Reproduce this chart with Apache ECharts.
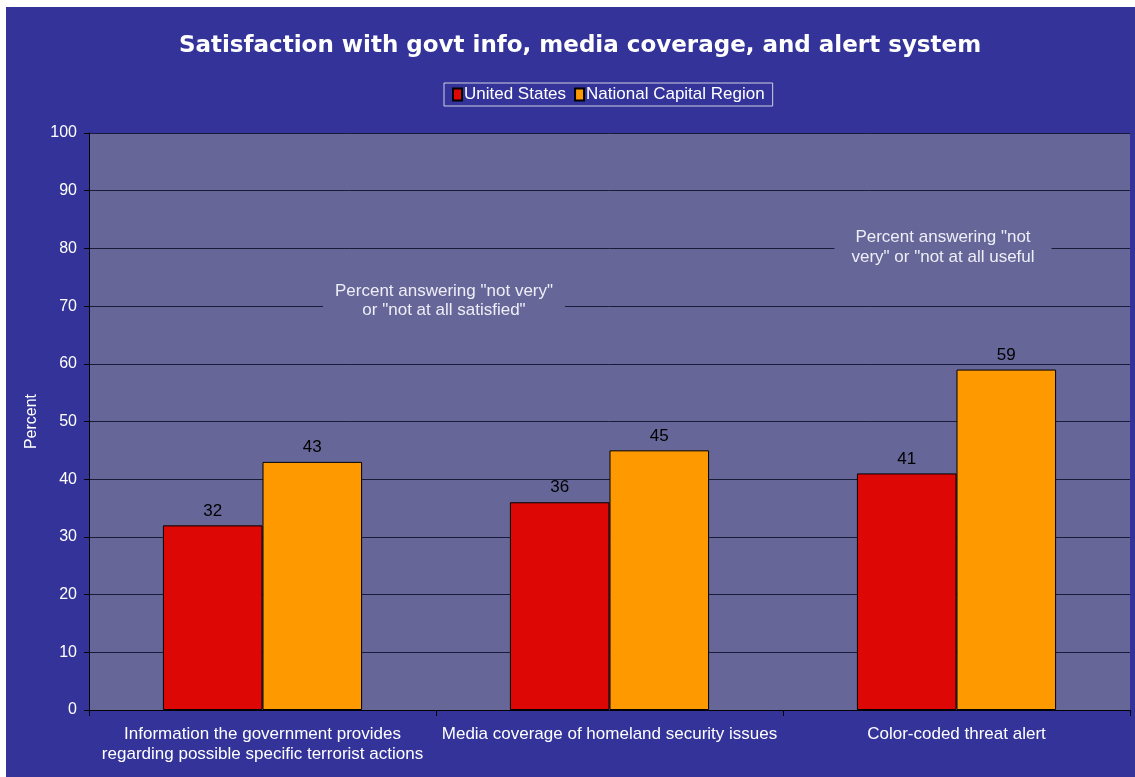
<!DOCTYPE html>
<html>
<head>
<meta charset="utf-8">
<script src="https://cdn.jsdelivr.net/npm/echarts@6/dist/echarts.min.js"></script>
<style>
  html, body { margin: 0; padding: 0; background: #ffffff; }
  #chart { width: 1135px; height: 777px; }
</style>
</head>
<body>
<div id="chart"></div>
<script>
// Survey categories (x axis) and percentages per region
const categories = [
  'Information the government provides\nregarding possible specific terrorist actions',
  'Media coverage of homeland security issues',
  'Color-coded threat alert'
];
const unitedStates = [32, 36, 41];
const nationalCapitalRegion = [43, 45, 59];
const seriesNames = ['United States', 'National Capital Region'];
const yTicks = { min: 0, max: 100, interval: 10 };

const FONT = '"Liberation Sans", Arial, sans-serif';
const TEXT_SIZE = 17;

const chart = echarts.init(document.getElementById('chart'));

const barLabel = {
  show: true,
  position: 'top',
  distance: 6,
  color: '#000000',
  fontFamily: FONT,
  fontSize: TEXT_SIZE
};

// Notes drawn over the plot; the background hides the gridline behind them
function note(text, cx, cy, padX, lineHeight) {
  return {
    type: 'text',
    z: 5,
    x: cx,
    y: cy,
    silent: true,
    style: {
      text: text,
      fill: '#eeeef8',
      font: TEXT_SIZE + 'px ' + FONT,
      align: 'center',
      verticalAlign: 'middle',
      lineHeight: lineHeight,
      backgroundColor: '#666699',
      padding: [0, padX, 0, padX]
    }
  };
}

chart.setOption({
  backgroundColor: '#ffffff',
  animation: false,
  graphic: [
    {
      type: 'rect',
      z: -10,
      silent: true,
      shape: { x: 6, y: 7, width: 1129, height: 770 },
      style: { fill: '#333399' }
    },
    note('Percent answering "not very"\nor "not at all satisfied"', 444, 301, 12, 19),
    note('Percent answering "not\nvery" or "not at all useful', 943, 247, 17, 20)
  ],
  title: {
    text: 'Satisfaction with govt info, media coverage, and alert system',
    left: 575,
    textAlign: 'center',
    top: 30,
    textStyle: {
      color: '#ffffff',
      fontFamily: '"DejaVu Sans", Verdana, sans-serif',
      fontWeight: 'bold',
      fontSize: 23
    }
  },
  legend: {
    data: seriesNames,
    left: 444,
    top: 83,
    padding: [3, 8, 3, 8],
    itemGap: 8,
    itemWidth: 9,
    itemHeight: 12,
    icon: 'rect',
    borderColor: '#d0d0e0',
    borderWidth: 1,
    backgroundColor: '#333399',
    textStyle: {
      color: '#ffffff',
      fontFamily: FONT,
      fontSize: TEXT_SIZE,
      padding: [0, 0, 0, -3]
    }
  },
  grid: {
    left: 89,
    top: 133,
    right: 5,
    bottom: 67,
    show: true,
    backgroundColor: '#666699',
    borderWidth: 0,
    containLabel: false
  },
  xAxis: {
    type: 'category',
    data: categories,
    axisLine: { show: true, lineStyle: { color: '#000000', width: 1 } },
    axisTick: { show: true, alignWithLabel: false, length: 6, lineStyle: { color: '#000000' } },
    axisLabel: {
      color: '#ffffff',
      fontFamily: FONT,
      fontSize: TEXT_SIZE,
      lineHeight: 20,
      margin: 14,
      interval: 0
    },
    splitLine: { show: false }
  },
  yAxis: {
    type: 'value',
    min: yTicks.min,
    max: yTicks.max,
    interval: yTicks.interval,
    name: 'Percent',
    nameLocation: 'middle',
    nameGap: 46,
    nameRotate: 90,
    nameTextStyle: { color: '#ffffff', fontFamily: FONT, fontSize: 16 },
    axisLine: { show: true, lineStyle: { color: '#000000', width: 1 } },
    axisTick: { show: true, length: 5, lineStyle: { color: '#000000' } },
    axisLabel: { color: '#ffffff', fontFamily: FONT, fontSize: 16, margin: 12 },
    splitLine: { show: true, lineStyle: { color: '#1a1a3a', width: 1 } }
  },
  series: [
    {
      name: seriesNames[0],
      type: 'bar',
      data: unitedStates,
      barGap: '0%',
      barCategoryGap: '42.6%',
      itemStyle: { color: '#dd0806', borderColor: '#000000', borderWidth: 1 },
      label: barLabel
    },
    {
      name: seriesNames[1],
      type: 'bar',
      data: nationalCapitalRegion,
      barGap: '0%',
      barCategoryGap: '42.6%',
      itemStyle: { color: '#ff9900', borderColor: '#000000', borderWidth: 1 },
      label: barLabel
    }
  ]
});
</script>
</body>
</html>
